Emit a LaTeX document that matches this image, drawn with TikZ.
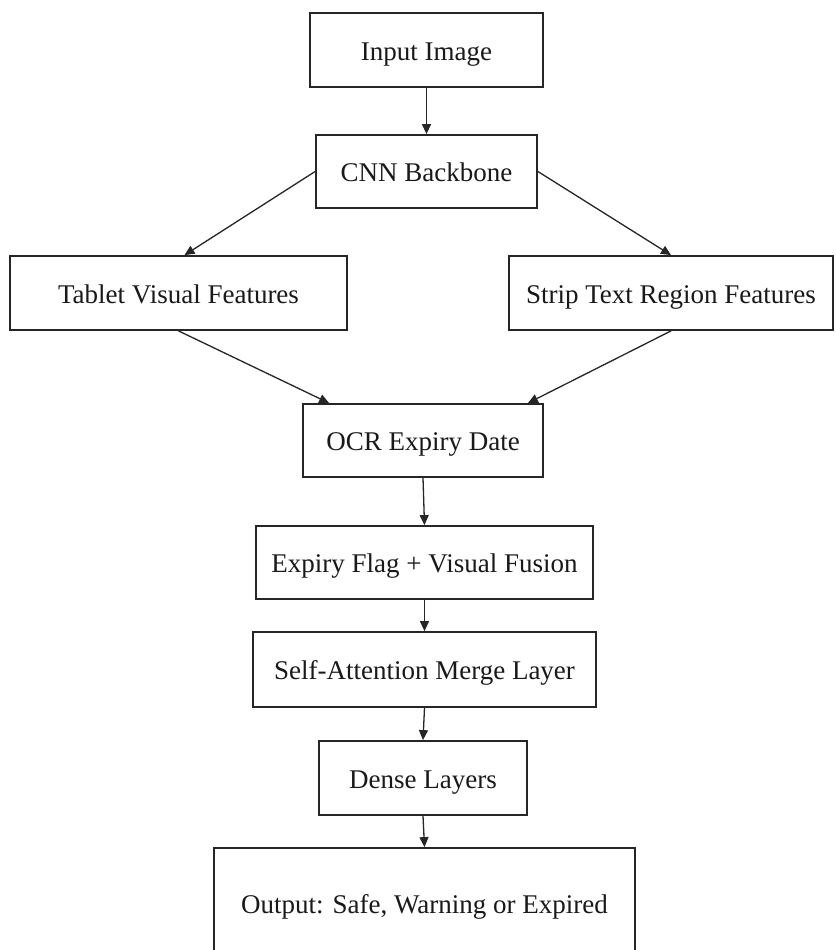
\documentclass[tikz,border=0pt]{standalone}
\usepackage{fontspec}
\setmainfont{Liberation Serif}
\usetikzlibrary{arrows.meta,calc}
\begin{document}
\begin{tikzpicture}[x=1pt,y=-1pt,
  box/.style={draw=black!85,line width=1.8pt,rectangle,inner sep=0pt,align=center,
    text height=22pt,text depth=2pt,
    font=\fontsize{27}{32}\selectfont,text=black!90},
  arr/.style={draw=black!85,line width=1.3pt,-{Triangle[length=10pt,width=9pt]}}]
\useasboundingbox (0,0) rectangle (835,950);
\clip (0,0) rectangle (835,950);
\fill[white] (0,0) rectangle (835,950);
\node[box,minimum width=233pt,minimum height=74pt] (in) at (426.5,50) {Input Image};
\node[box,minimum width=221pt,minimum height=73pt] (cnn) at (426.5,171.5) {CNN Backbone};
\node[box,minimum width=337pt,minimum height=74pt] (tab) at (178.5,293) {Tablet Visual Features};
\node[box,minimum width=324pt,minimum height=74pt] (strip) at (671,293) {Strip Text Region Features};
\node[box,minimum width=240pt,minimum height=73pt] (ocr) at (423,440.5) {OCR Expiry Date};
\node[box,minimum width=337pt,minimum height=73pt] (flag) at (424.5,562.5) {Expiry Flag + Visual Fusion};
\node[box,minimum width=343pt,minimum height=75pt] (sa) at (424.5,669.5) {Self-Attention Merge Layer};
\node[box,minimum width=208pt,minimum height=74pt] (dense) at (423,778) {Dense Layers};
\node[box,minimum width=421pt,minimum height=110pt] (out) at (424.5,903) {Output: Safe, Warning or Expired};
\draw[arr] (in.south) -- (cnn.north);
\draw[arr] (cnn.west) -- ($(tab.north)+(6,0)$);
\draw[arr] (cnn.east) -- (strip.north);
\draw[arr] (tab.south) -- ($(ocr.north west)+(27,0)$);
\draw[arr] (strip.south) -- ($(ocr.north east)+(-16,0)$);
\draw[arr] (ocr.south) -- (flag.north);
\draw[arr] (flag.south) -- (sa.north);
\draw[arr] (sa.south) -- (dense.north);
\draw[arr] (dense.south) -- (out.north);
\end{tikzpicture}
\end{document}
